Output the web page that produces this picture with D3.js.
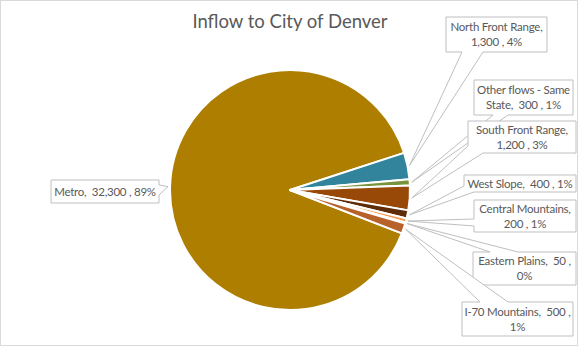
<!DOCTYPE html>
<html><head><meta charset="utf-8">
<script src="https://cdn.jsdelivr.net/npm/d3@7"></script>
<style>body{margin:0;background:#fff}svg{display:block}text{white-space:pre}</style>
</head><body>
<svg id="c" width="581" height="351"></svg>
<script>
const title = "Inflow to City of Denver";
const categories = ["Metro","North Front Range","Other flows - Same State","South Front Range","West Slope","Central Mountains","Eastern Plains","I-70 Mountains"];
const values = [32300,1300,300,1200,400,200,50,500];
const colors = ["#AD7E00","#31849B","#77933C","#984807","#5E2C06","#F79646","#E46C0A","#B7612B"];
// label wrapping: break the label after this token (null = single line)
const splitAfter = ["","Range,","Same","Range,","","Mountains,","50 ,","500 ,"];

// layout (callout boxes & tail bases)
const boxes = [
  {x:51,y:180,w:108,h:23,b:[[159,185],[159,195]]},
  {x:446,y:17,w:101,h:35,b:[[462,52],[483,52]]},
  {x:474,y:80,w:99,h:35,b:[[493,115],[508,115]]},
  {x:468,y:121,w:108,h:32,b:[[468,146],[483,153]]},
  {x:464,y:175,w:112,h:17,b:[[464,186],[474,192]]},
  {x:474,y:200,w:102,h:32,b:[[474,219],[474,226]]},
  {x:473,y:252,w:103,h:33,b:[[490,252],[518,252]]},
  {x:462,y:302,w:111,h:34,b:[[480,302],[508,302]]}
];

const svg = d3.select("#c");
svg.append("rect").attr("x",0.5).attr("y",0.5).attr("width",577).attr("height",345)
  .attr("fill","#fff").attr("stroke","#D9D9D9");

svg.append("text").attr("x",290).attr("y",28).attr("text-anchor","middle")
  .attr("font-family","Lato, 'Open Sans', sans-serif").attr("font-size",18.5).attr("fill","#595959").text(title);

const cx = 290, cy = 190, r = 120;
const total = d3.sum(values);
const data = categories.map((c,i)=>({name:c,value:values[i],color:colors[i],i}));
const deg = Math.PI/180;
const start = 111.2*deg;
const pie = d3.pie().value(d=>d.value).sort(null).startAngle(start).endAngle(start+2*Math.PI);
const arcs = pie(data);
const arc = d3.arc().innerRadius(0).outerRadius(r);

const g = svg.append("g").attr("transform",`translate(${cx},${cy})`);
g.selectAll("path").data(arcs).join("path").attr("d",arc)
  .attr("fill",d=>d.data.color).attr("stroke","#fff").attr("stroke-width",2).attr("stroke-linejoin","round");

const fmt = d3.format(",");
function labelLines(d){
  const pct = Math.round(d.value/total*100);
  const txt = `${d.name},  ${fmt(d.value)} , ${pct}%`;
  const s = splitAfter[d.i];
  if(!s) return [txt];
  const k = txt.indexOf(s)+s.length;
  return [txt.slice(0,k).trim(), txt.slice(k).trim()];
}

function calloutPath(b, tip){
  const x0=b.x,y0=b.y,x1=b.x+b.w,y1=b.y+b.h,w=b.w,h=b.h;
  const T = p=>{
    const [x,y]=p;
    if(Math.abs(y-y0)<0.01) return x-x0;
    if(Math.abs(x-x1)<0.01) return w+(y-y0);
    if(Math.abs(y-y1)<0.01) return w+h+(x1-x);
    return 2*w+h+(y1-y);
  };
  let pts = b.b.map(p=>({p,t:T(p)})).sort((a,c)=>a.t-c.t);
  const pA=pts[0], pB=pts[1];
  const corners=[{p:[x0,y0],t:0},{p:[x1,y0],t:w},{p:[x1,y1],t:w+h},{p:[x0,y1],t:2*w+h}];
  const seq=[pA.p, tip, pB.p];
  corners.filter(c=>c.t>pB.t).forEach(c=>seq.push(c.p));
  corners.filter(c=>c.t<pA.t).forEach(c=>seq.push(c.p));
  return "M"+seq.map(p=>p.join(",")).join("L")+"Z";
}

const lab = svg.append("g");
arcs.forEach((a,i)=>{
  const b = boxes[i];
  const m = (a.startAngle+a.endAngle)/2;
  const R = r+2;
  const tip=[cx+Math.sin(m)*R, cy-Math.cos(m)*R];
  lab.append("path").attr("d",calloutPath(b,tip)).attr("fill","#fff").attr("stroke","#BFBFBF").attr("stroke-width",1);
  const lines = labelLines(a.data);
  const lh = 15;
  const t = lab.append("text").attr("text-anchor","middle").attr("xml:space","preserve")
    .attr("font-family","Lato, 'Open Sans', sans-serif").attr("font-size",11.5)
    .attr("letter-spacing",-0.25).attr("fill","#595959");
  const y0 = b.y + b.h/2 - (lines.length-1)*lh/2 + 4;
  lines.forEach((l,k)=>t.append("tspan").attr("x",b.x+b.w/2).attr("y",y0+k*lh).text(l));
});
</script>
</body></html>
